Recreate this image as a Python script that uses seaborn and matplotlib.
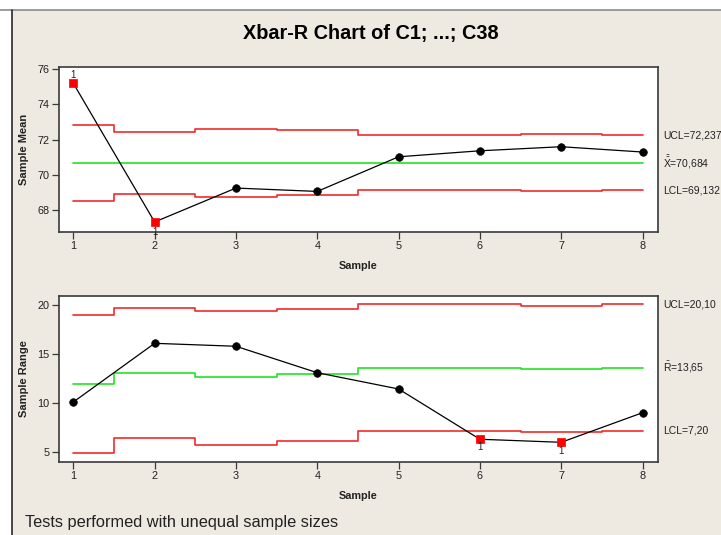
import numpy as np
import pandas as pd
import matplotlib
matplotlib.use("Agg")
import matplotlib.pyplot as plt
import matplotlib.transforms as mtransforms
from matplotlib.lines import Line2D
from matplotlib.patches import Rectangle
import seaborn as sns

# ---- data ----------------------------------------------------------------
samples = [1, 2, 3, 4, 5, 6, 7, 8]

sample_means = [75.19, 67.34, 69.26, 69.07, 71.03, 71.37, 71.60, 71.30]
xbar_center = [70.684] * 8
xbar_ucl = [72.83, 72.45, 72.60, 72.53, 72.237, 72.237, 72.30, 72.237]
xbar_lcl = [68.54, 68.92, 68.77, 68.84, 69.132, 69.132, 69.07, 69.132]

sample_ranges = [10.13, 16.12, 15.82, 13.12, 11.46, 6.33, 6.02, 9.04]
r_center = [11.97, 13.12, 12.68, 12.96, 13.65, 13.65, 13.50, 13.65]
r_ucl = [19.04, 19.69, 19.45, 19.62, 20.10, 20.10, 19.96, 20.10]
r_lcl = [4.90, 6.46, 5.78, 6.15, 7.20, 7.20, 7.06, 7.20]

mean_ticks = [68, 70, 72, 74, 76]
range_ticks = [5, 10, 15, 20]

title = "Xbar-R Chart of C1; ...; C38"
footnote = "Tests performed with unequal sample sizes"

# ---- style ---------------------------------------------------------------
sns.set_theme(style="ticks")
plt.rcParams["font.family"] = ["Liberation Sans", "DejaVu Sans"]
plt.rcParams["mathtext.fontset"] = "custom"
plt.rcParams["mathtext.rm"] = "Liberation Sans"
plt.rcParams["mathtext.sf"] = "Liberation Sans"

BG = "#EEEAE1"
RED = "#F42A2A"
GREEN = "#22E322"
TXT = "#222222"
SPINE = "#3A3A3A"

W, H = 721, 535
fig = plt.figure(figsize=(W / 100, H / 100), dpi=100)
fig.patch.set_facecolor("white")
fig.add_artist(Rectangle((12 / W, 0), 1, 1 - 10 / H, transform=fig.transFigure,
                         facecolor=BG, edgecolor="none", zorder=-10))
fig.add_artist(Line2D([0, 1], [1 - 9.5 / H] * 2, transform=fig.transFigure,
                      color="#8A8A8A", lw=1.2))
fig.add_artist(Line2D([11.5 / W] * 2, [0, 1 - 9.5 / H], transform=fig.transFigure,
                      color="#2A2A2A", lw=1.2))

left, width = 59 / W, 599 / W
ax_top = fig.add_axes([left, 1 - 231.7 / H, width, 165 / H])
ax_bot = fig.add_axes([left, 1 - 461.7 / H, width, 166 / H])


def fmt(v, nd):
    return f"{v:.{nd}f}".replace(".", ",")


def draw_panel(ax, values, center, ucl, lcl, ylab, yticks, ylim,
               center_label, nd, flag_offsets):
    df = pd.DataFrame({"sample": samples, "value": values,
                       "center": center, "ucl": ucl, "lcl": lcl})
    for col, colr in (("ucl", RED), ("lcl", RED), ("center", GREEN)):
        sns.lineplot(data=df, x="sample", y=col, ax=ax, color=colr, lw=1.2,
                     drawstyle="steps-mid", zorder=2)
    sns.lineplot(data=df, x="sample", y="value", ax=ax, color="black",
                 lw=0.9, zorder=3)
    flagged = (df["value"] > df["ucl"]) | (df["value"] < df["lcl"])
    sns.scatterplot(data=df[~flagged], x="sample", y="value", ax=ax,
                    color="black", marker="o", s=30, edgecolor="black",
                    linewidth=0.5, zorder=4)
    sns.scatterplot(data=df[flagged], x="sample", y="value", ax=ax,
                    color="#FF0000", marker="s", s=30, edgecolor="#FF0000",
                    linewidth=0.5, zorder=4)
    for (s, v), off in zip(df.loc[flagged, ["sample", "value"]].values,
                           flag_offsets):
        ax.annotate("1", (s, v), xytext=(0, off), textcoords="offset points",
                    ha="center", va="center", fontsize=7, color=TXT,
                    zorder=5)

    ax.set_xlim(0.824, 8.19)
    ax.set_ylim(*ylim)
    ax.set_xticks(samples)
    ax.set_yticks(yticks)
    ax.set_facecolor("white")
    for sp in ax.spines.values():
        sp.set_color(SPINE)
        sp.set_linewidth(1.2)
    ax.tick_params(axis="both", direction="out", length=5, width=0.9,
                   color=SPINE, labelsize=7.8, labelcolor=TXT, pad=2)
    ax.set_xlabel("Sample", fontsize=7.8, fontweight="bold", color=TXT)
    ax.set_ylabel(ylab, fontsize=8, fontweight="bold", color=TXT)
    ax.xaxis.set_label_coords(0.5, -0.176)
    ax.yaxis.set_label_coords(-0.05, 0.5)

    trans = mtransforms.blended_transform_factory(ax.transAxes, ax.transData)
    xl = 1.0085
    ax.text(xl, ucl[-1], f"UCL={fmt(ucl[-1], nd)}", transform=trans,
            ha="left", va="center", fontsize=7.5, color=TXT)
    ax.text(xl, center[-1], f"{center_label}={fmt(center[-1], nd)}",
            transform=trans, ha="left", va="center", fontsize=7.5, color=TXT)
    ax.text(xl, lcl[-1], f"LCL={fmt(lcl[-1], nd)}", transform=trans,
            ha="left", va="center", fontsize=7.5, color=TXT)


draw_panel(ax_top, sample_means, xbar_center, xbar_ucl, xbar_lcl,
           "Sample Mean", mean_ticks, (66.79, 76.13),
           r"$\bar{\bar{\mathrm{X}}}$", 3, [6, -7])
draw_panel(ax_bot, sample_ranges, r_center, r_ucl, r_lcl,
           "Sample Range", range_ticks, (4.04, 20.98),
           r"$\bar{\mathrm{R}}$", 2, [-5.5, -6])

fig.text(371 / W, 1 - 34 / H, title, ha="center", va="center",
         fontsize=14.3, fontweight="bold", color="black")
fig.text(25 / W, 1 - 522 / H, footnote, ha="left", va="center",
         fontsize=11.75, color=TXT)

fig.savefig("out.png", dpi=100, facecolor=fig.get_facecolor())
